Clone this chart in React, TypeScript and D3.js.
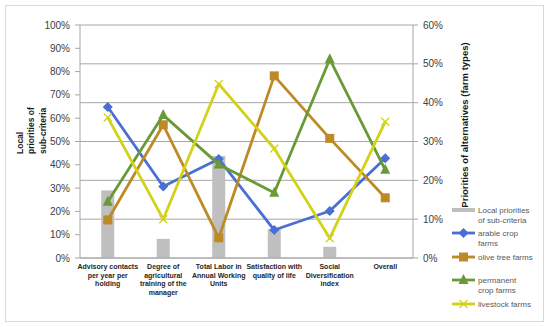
import React from "react";
import * as d3 from "d3";

const categories: string[][] = [
  ["Advisory contacts", "per year per", "holding"],
  ["Degree of", "agricultural", "training of the", "manager"],
  ["Total Labor in", "Annual Working", "Units"],
  ["Satisfaction with", "quality of life"],
  ["Social", "Diversification", "index"],
  ["Overall"],
];
const localPriorities: (number | null)[] = [0.29, 0.082, 0.438, 0.124, 0.048, null];
const arable = [0.389, 0.184, 0.255, 0.072, 0.121, 0.257];
const olive = [0.098, 0.343, 0.052, 0.469, 0.308, 0.155];
const permanent = [0.145, 0.368, 0.241, 0.168, 0.512, 0.227];
const livestock = [0.362, 0.1, 0.448, 0.282, 0.051, 0.351];
const leftTicks = [0, 0.1, 0.2, 0.3, 0.4, 0.5, 0.6, 0.7, 0.8, 0.9, 1.0];
const rightTicks = [0, 0.1, 0.2, 0.3, 0.4, 0.5, 0.6];

const series = [
  { name: ["arable crop", "farms"], values: arable, color: "#4A6FD4", marker: "diamond" },
  { name: ["olive tree farms"], values: olive, color: "#BE8A26", marker: "square" },
  { name: ["permanent", "crop farms"], values: permanent, color: "#6A9A38", marker: "triangle" },
  { name: ["livestock farms"], values: livestock, color: "#D2D21A", marker: "x" },
];

const W = 550, H = 327;
const left = 80, right = 413, top = 25, bottom = 258;
const font = "'Liberation Sans', Arial, sans-serif";

function Marker({ type, x, y, color }: { type: string; x: number; y: number; color: string }) {
  if (type === "diamond") {
    const s = 5;
    return <path d={`M${x},${y - s}L${x + s},${y}L${x},${y + s}L${x - s},${y}Z`} fill={color} />;
  }
  if (type === "square") {
    const s = 4.5;
    return <rect x={x - s} y={y - s} width={2 * s} height={2 * s} fill={color} />;
  }
  if (type === "triangle") {
    const s = 5;
    return <path d={`M${x},${y - s - 1}L${x + s},${y + s - 1}L${x - s},${y + s - 1}Z`} fill={color} />;
  }
  const s = 4;
  return (
    <path d={`M${x - s},${y - s}L${x + s},${y + s}M${x - s},${y + s}L${x + s},${y - s}`} stroke={color} strokeWidth={1.3} />
  );
}

export default function App() {
  const x = d3.scaleBand<number>().domain(d3.range(categories.length)).range([left, right]);
  const yL = d3.scaleLinear().domain([0, 1]).range([bottom, top]);
  const yR = d3.scaleLinear().domain([0, 0.6]).range([bottom, top]);
  const cx = (i: number) => (x(i) as number) + x.bandwidth() / 2;
  const pct = d3.format(".0%");
  const barW = 13;

  const legendRows = [
    { label: ["Local priorities", "of sub-criteria"], y: 210, color: "#BFBFBF", marker: null, bar: true },
    { label: series[0].name, y: 233, color: series[0].color, marker: series[0].marker, bar: false },
    { label: series[1].name, y: 257, color: series[1].color, marker: series[1].marker, bar: false },
    { label: series[2].name, y: 280, color: series[2].color, marker: series[2].marker, bar: false },
    { label: series[3].name, y: 304, color: series[3].color, marker: series[3].marker, bar: false },
  ];

  return (
    <svg width={W} height={H} style={{ position: "absolute", left: 0, top: 0 }} fontFamily={font}>
      <rect x={0} y={0} width={W} height={H} fill="#fff" />
      <rect x={5.5} y={5.5} width={538} height={316} fill="#fff" stroke="#D9D9D9" />
      {/* gridlines from right axis */}
      {rightTicks.map((t) => (
        <line key={t} x1={left} x2={right} y1={yR(t)} y2={yR(t)} stroke="#A6A6A6" strokeWidth={1} />
      ))}
      {/* bars */}
      {localPriorities.map((v, i) =>
        v == null ? null : (
          <rect key={i} x={cx(i) - barW / 2} y={yL(v)} width={barW} height={bottom - yL(v)} fill="#BFBFBF" />
        )
      )}
      {/* axes */}
      <line x1={left} x2={left} y1={top} y2={bottom} stroke="#A6A6A6" />
      <line x1={right} x2={right} y1={top} y2={bottom} stroke="#A6A6A6" />
      <line x1={left} x2={right} y1={bottom} y2={bottom} stroke="#A6A6A6" />
      {leftTicks.map((t) => (
        <g key={t}>
          <line x1={left - 5} x2={left} y1={yL(t)} y2={yL(t)} stroke="#A6A6A6" />
          <text x={70} y={yL(t)} dy="0.35em" textAnchor="end" fontSize={10} fill="#404040">
            {pct(t)}
          </text>
        </g>
      ))}
      {rightTicks.map((t) => (
        <g key={t}>
          <line x1={right} x2={right + 5} y1={yR(t)} y2={yR(t)} stroke="#A6A6A6" />
          <text x={423} y={yR(t)} dy="0.35em" textAnchor="start" fontSize={10} fill="#404040">
            {pct(t)}
          </text>
        </g>
      ))}
      {/* category labels */}
      {categories.map((lines, i) => (
        <text key={i} x={cx(i)} y={269} textAnchor="middle" fontSize={7} fontWeight="bold" fill="#262626">
          {lines.map((l, j) => (
            <tspan key={j} x={cx(i)} dy={j === 0 ? 0 : 8.7}>
              {l}
            </tspan>
          ))}
        </text>
      ))}
      {/* lines */}
      {series.map((s) => {
        const line = d3
          .line<number>()
          .x((_, i) => cx(i))
          .y((d) => yR(d));
        return (
          <g key={s.name.join(" ")}>
            <path d={line(s.values) as string} fill="none" stroke={s.color} strokeWidth={2.8} strokeLinejoin="round" />
            {s.values.map((v, i) => (
              <Marker key={i} type={s.marker} x={cx(i)} y={yR(v)} color={s.color} />
            ))}
          </g>
        );
      })}
      {/* left title */}
      {["Local", "priorities of", "sub-criteria"].map((l, j) => (
        <text
          key={j}
          transform={`translate(${22.5 + j * 11.5},154) rotate(-90)`}
          textAnchor="start"
          fontSize={8.5}
          fontWeight="bold"
          fill="#1a1a1a"
        >
          {l}
        </text>
      ))}
      {/* right title */}
      <text transform="translate(468,125) rotate(-90)" textAnchor="middle" fontSize={9.5} fontWeight="bold" fill="#1a1a1a">
        Priorities of alternatives (farm types)
      </text>
      {/* legend */}
      {legendRows.map((r, k) => (
        <g key={k}>
          <line x1={452} x2={475} y1={r.y} y2={r.y} stroke={r.color} strokeWidth={r.bar ? 4 : 2.8} />
          {r.marker ? <Marker type={r.marker} x={463.5} y={r.y} color={r.color} /> : null}
          <text x={478} y={r.y} fontSize={8} fill="#595959">
            {r.label.map((l, j) => (
              <tspan key={j} x={478} dy={j === 0 ? "0.35em" : 10}>
                {l}
              </tspan>
            ))}
          </text>
        </g>
      ))}
    </svg>
  );
}
